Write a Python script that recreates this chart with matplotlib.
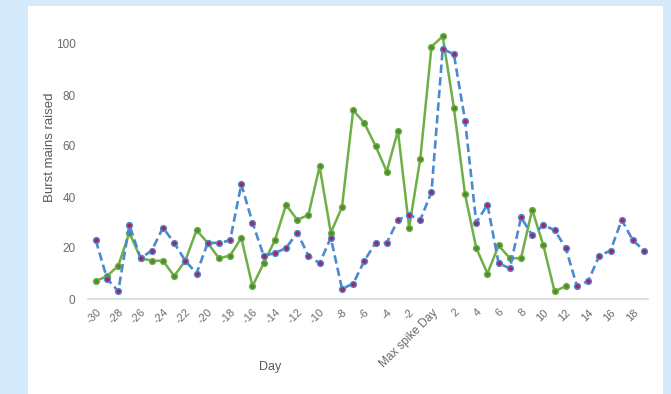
import matplotlib
matplotlib.use('Agg')
import matplotlib.pyplot as plt
from matplotlib.patches import Rectangle

# days relative to the max spike day
days_blue = list(range(-30, 20))
days_green = list(range(-30, 13))

blue_vals = [23, 8, 3, 29, 16, 19, 28, 22, 15, 10,
             22, 22, 23, 45, 30, 17, 18, 20, 26, 17,
             14, 24, 4, 6, 15, 22, 22, 31, 33, 31,
             42, 98, 96, 70, 30, 37, 14, 12, 32, 25,
             29, 27, 20, 5, 7, 17, 19, 31, 23, 19]

green_vals = [7, 9, 13, 26, 16, 15, 15, 9, 15, 27,
              22, 16, 17, 24, 5, 14, 23, 37, 31, 33,
              52, 26, 36, 74, 69, 60, 50, 66, 28, 55,
              99, 103, 75, 41, 20, 10, 21, 16, 16, 35,
              21, 3, 5]

tick_days = list(range(-30, 19, 2))
tick_labels = ['Max spike Day' if d == 0 else str(d) for d in tick_days]
y_ticks = [0, 20, 40, 60, 80, 100]

plt.rcParams['font.family'] = ['Liberation Sans', 'DejaVu Sans']

fig = plt.figure(figsize=(6.71, 3.94), dpi=100)
fig.patch.set_facecolor('#d5eafb')
# white chart panel
panel = Rectangle((28 / 671, 0), (663 - 28) / 671, 1 - 6 / 394,
                  transform=fig.transFigure, facecolor='white',
                  edgecolor='none', zorder=-5)
fig.add_artist(panel)

ax = fig.add_axes([88 / 671, 95 / 394, 560 / 671, 280.5 / 394])
ax.set_zorder(2)
ax.set_facecolor('none')

ax.plot(days_blue, blue_vals, color='#4a8ad2', lw=1.9, ls=(0, (3.2, 1.6)),
        marker='o', ms=4.2, mfc='#a8245e', mec='#4a8ad2', mew=1.0, zorder=3)
ax.plot(days_green, green_vals, color='#6fb046', lw=1.8,
        marker='o', ms=4.2, mfc='#4f8a30', mec='#6fb046', mew=1.0, zorder=2)

ax.set_xlim(-30.7, 19.35)
ax.set_ylim(0, 110)
ax.set_yticks(y_ticks)
ax.set_xticks(tick_days)
ax.set_xticklabels(tick_labels, rotation=45, ha='right', rotation_mode='anchor')

for s in ['top', 'right', 'left']:
    ax.spines[s].set_visible(False)
ax.spines['bottom'].set_color('#d9d9d9')
ax.spines['bottom'].set_linewidth(1.2)
ax.tick_params(axis='x', length=0, colors='#6b6b6b', labelsize=8, pad=6)
ax.tick_params(axis='y', length=0, colors='#6b6b6b', labelsize=8.5, pad=9)
for lbl in ax.get_xticklabels():
    if lbl.get_text() == 'Max spike Day':
        lbl.set_fontsize(8.5)

ax.set_ylabel('Burst mains raised', fontsize=9.5, color='#5a5a5a')
ax.yaxis.set_label_coords(-0.058, 0.54)
ax.set_xlabel('Day', fontsize=9, color='#5a5a5a')
ax.xaxis.set_label_coords(0.325, -0.22)

fig.savefig('out.png', dpi=100, facecolor=fig.get_facecolor())
